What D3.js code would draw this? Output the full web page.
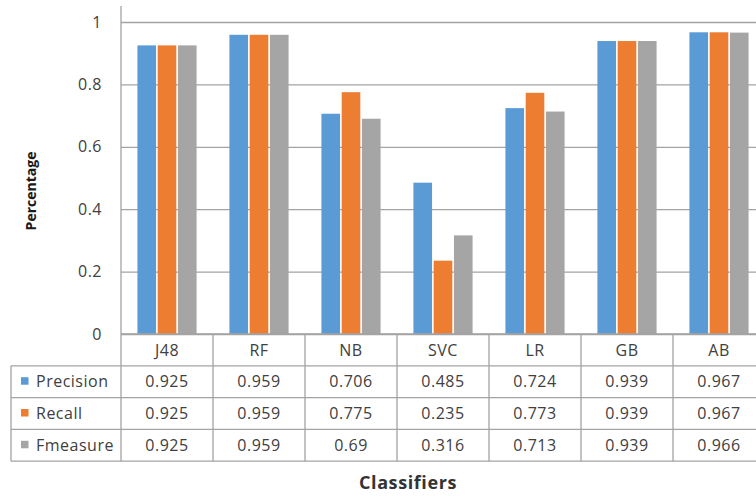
<!DOCTYPE html>
<html>
<head>
<meta charset="utf-8">
<script src="https://cdn.jsdelivr.net/npm/d3@7"></script>
<style>
  html, body { margin: 0; padding: 0; background: #fff; }
  svg { display: block; }
  text { font-family: "Open Sans", sans-serif; }
</style>
</head>
<body>
<svg id="chart" width="756" height="496"></svg>
<script>
// Classifier scores
const categories = ["J48", "RF", "NB", "SVC", "LR", "GB", "AB"];
const seriesNames = ["Precision", "Recall", "Fmeasure"];
const precision = [0.925, 0.959, 0.706, 0.485, 0.724, 0.939, 0.967];
const recall    = [0.925, 0.959, 0.775, 0.235, 0.773, 0.939, 0.967];
const fmeasure  = [0.925, 0.959, 0.69, 0.316, 0.713, 0.939, 0.966];
const yTicks = [0, 0.2, 0.4, 0.6, 0.8, 1];
const yTickLabels = ["0", "0.2", "0.4", "0.6", "0.8", "1"];

const seriesValues = [precision, recall, fmeasure];
const colors = ["#5b9bd5", "#ed7d31", "#a5a5a5"];

const svg = d3.select("#chart");
const W = 756;

// layout
const plotLeft = 121, plotTop = 6;
const colW = 92;
const zeroY = 334, oneY = 22;
const rowH = 31.8;
const headerBottom = zeroY + rowH;
const tableLeft = 11;
const tableBottom = headerBottom + rowH * 3;
const gridColor = "#a3a3a3";
const textColor = "#404040";

const x0 = d3.scaleBand()
  .domain(categories)
  .range([plotLeft, plotLeft + colW * categories.length])
  .padding(0);

const x1 = d3.scaleBand()
  .domain(seriesNames)
  .range([0, x0.bandwidth()])
  .paddingInner(0.08)
  .paddingOuter(0.81);

const y = d3.scaleLinear().domain([0, 1]).range([zeroY, oneY]);

// gridlines + tick labels
const yAxis = d3.axisLeft(y)
  .tickValues(yTicks)
  .tickFormat((d, i) => yTickLabels[i])
  .tickSize(-(W - plotLeft))
  .tickPadding(19);

const gAxis = svg.append("g")
  .attr("transform", `translate(${plotLeft},0)`)
  .call(yAxis);
gAxis.select(".domain").remove();
gAxis.selectAll(".tick line")
  .attr("stroke", gridColor)
  .attr("stroke-width", 1.3);
gAxis.selectAll(".tick text")
  .attr("fill", textColor)
  .style("font-size", "16px")
  .style("font-family", "'Open Sans', sans-serif")
  .style("letter-spacing", "0.5px");

// bars
const groups = svg.append("g").selectAll("g")
  .data(categories)
  .join("g")
  .attr("transform", d => `translate(${x0(d)},0)`);

groups.selectAll("rect")
  .data((d, ci) => seriesNames.map((s, si) => ({ s, si, v: seriesValues[si][ci] })))
  .join("rect")
  .attr("x", d => x1(d.s))
  .attr("width", x1.bandwidth())
  .attr("y", d => y(d.v))
  .attr("height", d => y(0) - y(d.v))
  .attr("fill", d => colors[d.si]);

// data table
const table = svg.append("g");
const hLines = [
  { y: zeroY, x1: plotLeft },
  { y: headerBottom, x1: tableLeft },
  { y: headerBottom + rowH, x1: tableLeft },
  { y: headerBottom + rowH * 2, x1: tableLeft },
  { y: tableBottom, x1: tableLeft }
];
table.selectAll("line.h")
  .data(hLines)
  .join("line")
  .attr("class", "h")
  .attr("x1", d => d.x1).attr("x2", plotLeft + colW * categories.length)
  .attr("y1", d => d.y).attr("y2", d => d.y)
  .attr("stroke", gridColor).attr("stroke-width", 1.3);

// vertical axis line, table left border, column separators
table.append("line")
  .attr("x1", plotLeft).attr("x2", plotLeft)
  .attr("y1", plotTop).attr("y2", tableBottom)
  .attr("stroke", gridColor).attr("stroke-width", 1.3);
table.append("line")
  .attr("x1", tableLeft).attr("x2", tableLeft)
  .attr("y1", headerBottom).attr("y2", tableBottom)
  .attr("stroke", gridColor).attr("stroke-width", 1.3);
table.selectAll("line.v")
  .data(categories)
  .join("line")
  .attr("class", "v")
  .attr("x1", d => x0(d) + x0.bandwidth()).attr("x2", d => x0(d) + x0.bandwidth())
  .attr("y1", zeroY).attr("y2", tableBottom)
  .attr("stroke", gridColor).attr("stroke-width", 1.3);

// category header
table.selectAll("text.cat")
  .data(categories)
  .join("text")
  .attr("class", "cat")
  .attr("x", d => x0(d) + x0.bandwidth() / 2)
  .attr("y", zeroY + rowH / 2)
  .attr("dy", "0.36em")
  .attr("text-anchor", "middle")
  .attr("fill", textColor)
  .style("font-size", "16px")
  .style("letter-spacing", "0.5px")
  .text(d => d);

// rows
seriesNames.forEach((name, si) => {
  const cy = headerBottom + rowH * si + rowH / 2;
  table.append("rect")
    .attr("x", 21).attr("y", cy - 4.5)
    .attr("width", 7.5).attr("height", 7.5)
    .attr("fill", colors[si]);
  table.append("text")
    .attr("x", 36).attr("y", cy)
    .attr("dy", "0.36em")
    .attr("fill", textColor)
    .style("font-size", "16px")
    .style("letter-spacing", "0.5px")
    .text(name);
  table.selectAll(null)
    .data(categories)
    .join("text")
    .attr("x", d => x0(d) + x0.bandwidth() / 2)
    .attr("y", cy)
    .attr("dy", "0.36em")
    .attr("text-anchor", "middle")
    .attr("fill", textColor)
    .style("font-size", "16px")
    .style("letter-spacing", "0.5px")
    .text((d, ci) => String(seriesValues[si][ci]));
});

// axis titles
svg.append("text")
  .attr("transform", "translate(36,191) rotate(-90)")
  .attr("text-anchor", "middle")
  .attr("fill", "#1a1a1a")
  .style("font-size", "14px")
  .style("font-weight", "bold")
  .text("Percentage");

svg.append("text")
  .attr("x", 408).attr("y", 489)
  .attr("text-anchor", "middle")
  .attr("fill", "#333")
  .style("font-size", "18px")
  .style("font-weight", "bold")
  .style("letter-spacing", "0.6px")
  .text("Classifiers");
</script>
</body>
</html>
